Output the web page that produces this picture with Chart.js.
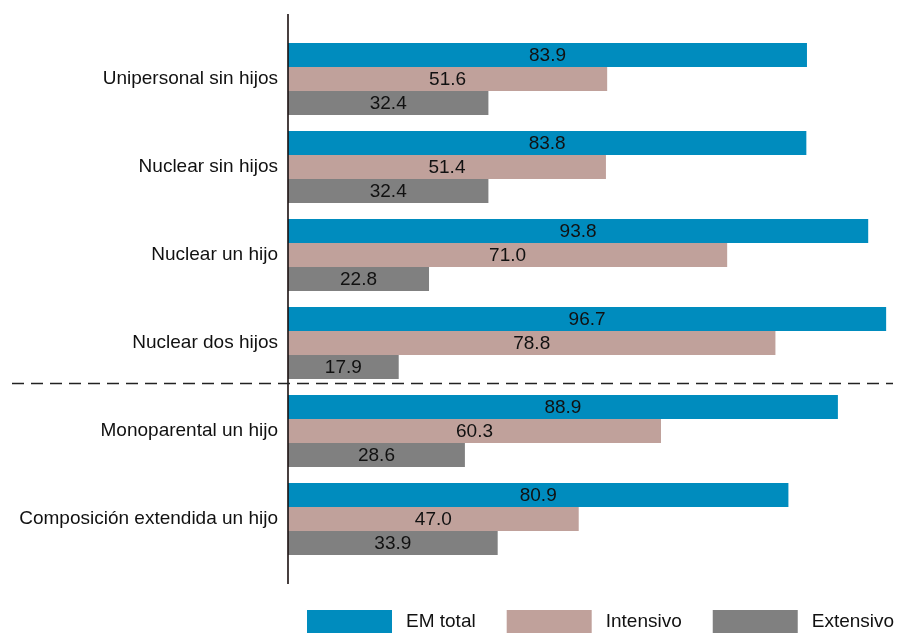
<!DOCTYPE html>
<html>
<head>
<meta charset="utf-8">
<script src="https://cdn.jsdelivr.net/npm/chart.js@4.4.1/dist/chart.umd.min.js"></script>
<style>
  html, body { margin: 0; padding: 0; background: #fff; overflow: hidden; }
  #wrap { width: 901px; height: 633px; position: relative; }
</style>
</head>
<body>
<div id="wrap"><canvas id="c" width="901" height="633"></canvas></div>
<script>
const categories = [
  "Unipersonal sin hijos",
  "Nuclear sin hijos",
  "Nuclear un hijo",
  "Nuclear dos hijos",
  "Monoparental un hijo",
  "Composición extendida un hijo"
];
const emTotal   = [83.9, 83.8, 93.8, 96.7, 88.9, 80.9];
const intensivo = [51.6, 51.4, 71.0, 78.8, 60.3, 47.0];
const extensivo = [32.4, 32.4, 22.8, 17.9, 28.6, 33.9];
const seriesNames = ["EM total", "Intensivo", "Extensivo"];
const seriesColors = ["#008CBE", "#C0A19B", "#808080"];

const FONT = "'Liberation Sans', Arial, sans-serif";

const labelsPlugin = {
  id: 'valueLabels',
  afterDatasetsDraw(chart) {
    const ctx = chart.ctx;
    ctx.save();
    ctx.font = "19px " + FONT;
    ctx.fillStyle = "#111";
    ctx.textAlign = "center";
    ctx.textBaseline = "middle";
    chart.data.datasets.forEach((ds, i) => {
      const meta = chart.getDatasetMeta(i);
      meta.data.forEach((bar, j) => {
        const v = ds.data[j];
        ctx.fillText(v.toFixed(1), (bar.base + bar.x) / 2, bar.y + 1);
      });
    });
    ctx.restore();
  }
};

const decorPlugin = {
  id: 'decor',
  afterDraw(chart) {
    const ctx = chart.ctx;
    const area = chart.chartArea;
    const y = chart.scales.y;
    ctx.save();
    // vertical axis line
    ctx.strokeStyle = "#1a1010";
    ctx.lineWidth = 1.6;
    ctx.beginPath();
    ctx.moveTo(area.left, 14);
    ctx.lineTo(area.left, 584);
    ctx.stroke();
    // dashed separator between groups
    const p3 = y.getPixelForValue(3), p4 = y.getPixelForValue(4);
    const yy = Math.round(p3 + (p4 - p3) * 0.455) + 0.5;
    ctx.setLineDash([12, 7]);
    ctx.strokeStyle = "#222";
    ctx.lineWidth = 1.5;
    ctx.beginPath();
    ctx.moveTo(12, yy);
    ctx.lineTo(893, yy);
    ctx.stroke();
    ctx.setLineDash([]);
    // legend
    ctx.font = "19px " + FONT;
    ctx.textAlign = "left";
    ctx.textBaseline = "middle";
    let x = 307;
    const boxW = 85, boxTop = 610, boxH = 26, gapText = 14, itemGap = 31;
    chart.data.datasets.forEach((ds) => {
      ctx.fillStyle = ds.backgroundColor;
      ctx.fillRect(x, boxTop, boxW, boxH);
      x += boxW + gapText;
      ctx.fillStyle = "#111";
      ctx.fillText(ds.label, x, 622);
      x += ctx.measureText(ds.label).width + itemGap;
    });
    ctx.restore();
  }
};

new Chart(document.getElementById('c'), {
  type: 'bar',
  data: {
    labels: categories,
    datasets: [
      { label: seriesNames[0], data: emTotal,   backgroundColor: seriesColors[0] },
      { label: seriesNames[1], data: intensivo, backgroundColor: seriesColors[1] },
      { label: seriesNames[2], data: extensivo, backgroundColor: seriesColors[2] }
    ]
  },
  options: {
    indexAxis: 'y',
    responsive: false,
    animation: false,
    devicePixelRatio: 1,
    layout: { padding: { top: 35, right: 13, bottom: 70, left: 0 } },
    datasets: { bar: { categoryPercentage: 72 / 88, barPercentage: 1, borderWidth: 0 } },
    plugins: { legend: { display: false }, tooltip: { enabled: false } },
    scales: {
      x: { display: false, min: 0, max: 97 },
      y: {
        grid: { display: false },
        border: { display: false },
        ticks: { color: "#111", font: { family: FONT, size: 19 }, padding: 2 },
        afterFit(s) { s.width = 288; }
      }
    }
  },
  plugins: [labelsPlugin, decorPlugin]
});
</script>
</body>
</html>
